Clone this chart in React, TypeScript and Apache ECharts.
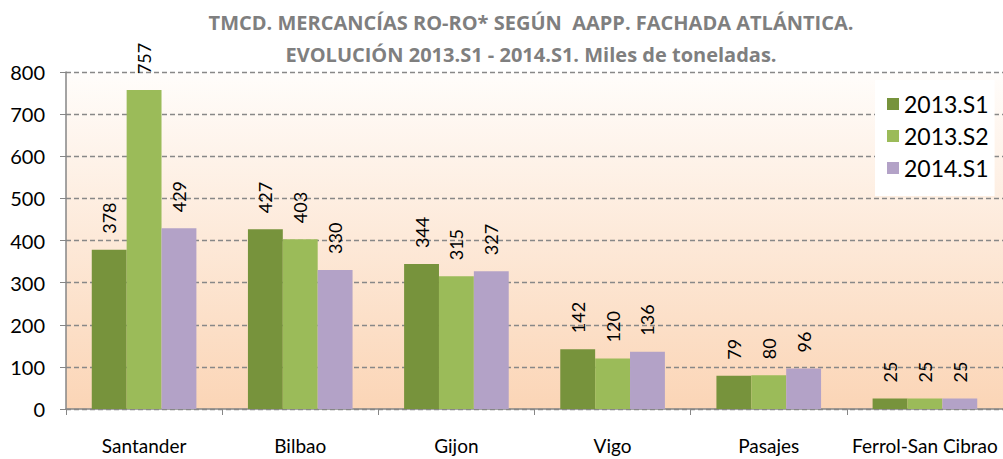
import React, { useEffect, useRef } from "react";
import * as echarts from "echarts";

const categories = ["Santander", "Bilbao", "Gijon", "Vigo", "Pasajes", "Ferrol-San Cibrao"];
const s2013S1 = [378, 427, 344, 142, 79, 25];
const s2013S2 = [757, 403, 315, 120, 80, 25];
const s2014S1 = [429, 330, 327, 136, 96, 25];
const seriesNames = ["2013.S1", "2013.S2", "2014.S1"];
const colors = ["#77933C", "#9BBB59", "#B3A2C7"];
const yTicks = { min: 0, max: 800, interval: 100 };

const FONT = "Lato, 'Open Sans', sans-serif";

export default function App() {
  const ref = useRef<HTMLDivElement>(null);
  useEffect(() => {
    const chart = echarts.init(ref.current!, null, { renderer: "svg" });
    const data = [s2013S1, s2013S2, s2014S1];
    chart.setOption({
      animation: false,
      textStyle: { fontFamily: FONT },
      title: {
        text: "TMCD. MERCANCÍAS RO-RO* SEGÚN  AAPP. FACHADA ATLÁNTICA.\nEVOLUCIÓN 2013.S1 - 2014.S1. Miles de toneladas.",
        left: 526,
        textAlign: "center",
        top: 1,
        textStyle: {
          fontFamily: "'Open Sans', sans-serif",
          fontWeight: "bold",
          fontSize: 20,
          color: "#7F7F7F",
          lineHeight: 32,
        },
      },
      legend: {
        orient: "vertical",
        left: 875,
        top: 80,
        width: 120,
        backgroundColor: "#FFFFFF",
        padding: [12, 6, 16, 12],
        itemWidth: 12,
        itemHeight: 12,
        itemGap: 8,
        icon: "rect",
        textStyle: { fontSize: 23, color: "#000", fontFamily: FONT, lineHeight: 24 },
        data: seriesNames,
      },
      grid: { left: 66, right: -1, top: 72, bottom: 50, show: true, borderWidth: 0,
        backgroundColor: new echarts.graphic.LinearGradient(0, 0, 0, 1, [
          { offset: 0, color: "#FFFDFB" },
          { offset: 1, color: "#FBD5B6" },
        ]) },
      xAxis: {
        type: "category",
        data: categories,
        axisLine: { lineStyle: { color: "#868686", width: 1.5 } },
        axisTick: { show: true, length: 6, lineStyle: { color: "#868686" } },
        axisLabel: { fontSize: 19, color: "#000", margin: 27, interval: 0, fontFamily: FONT },
      },
      yAxis: {
        type: "value",
        ...yTicks,
        axisLine: { show: true, lineStyle: { color: "#868686", width: 1.5 } },
        axisTick: { show: true, length: 6, lineStyle: { color: "#868686" } },
        axisLabel: { fontSize: 20, color: "#000", margin: 21, fontFamily: FONT },
        splitLine: { lineStyle: { color: "#888888", type: [5, 3], width: 1.3 } },
      },
      series: seriesNames.map((name, i) => ({
        name,
        type: "bar",
        data: data[i],
        barGap: "0%",
        barCategoryGap: "33%",
        itemStyle: { color: colors[i] },
        label: {
          show: true,
          position: "top",
          rotate: 90,
          align: "left",
          verticalAlign: "middle",
          distance: 16,
          fontSize: 18,
          color: "#000",
          fontFamily: FONT,
        },
      })),
    });
    return () => chart.dispose();
  }, []);
  return <div ref={ref} style={{ width: 1003, height: 459, position: "absolute", left: 0, top: 0 }} />;
}
